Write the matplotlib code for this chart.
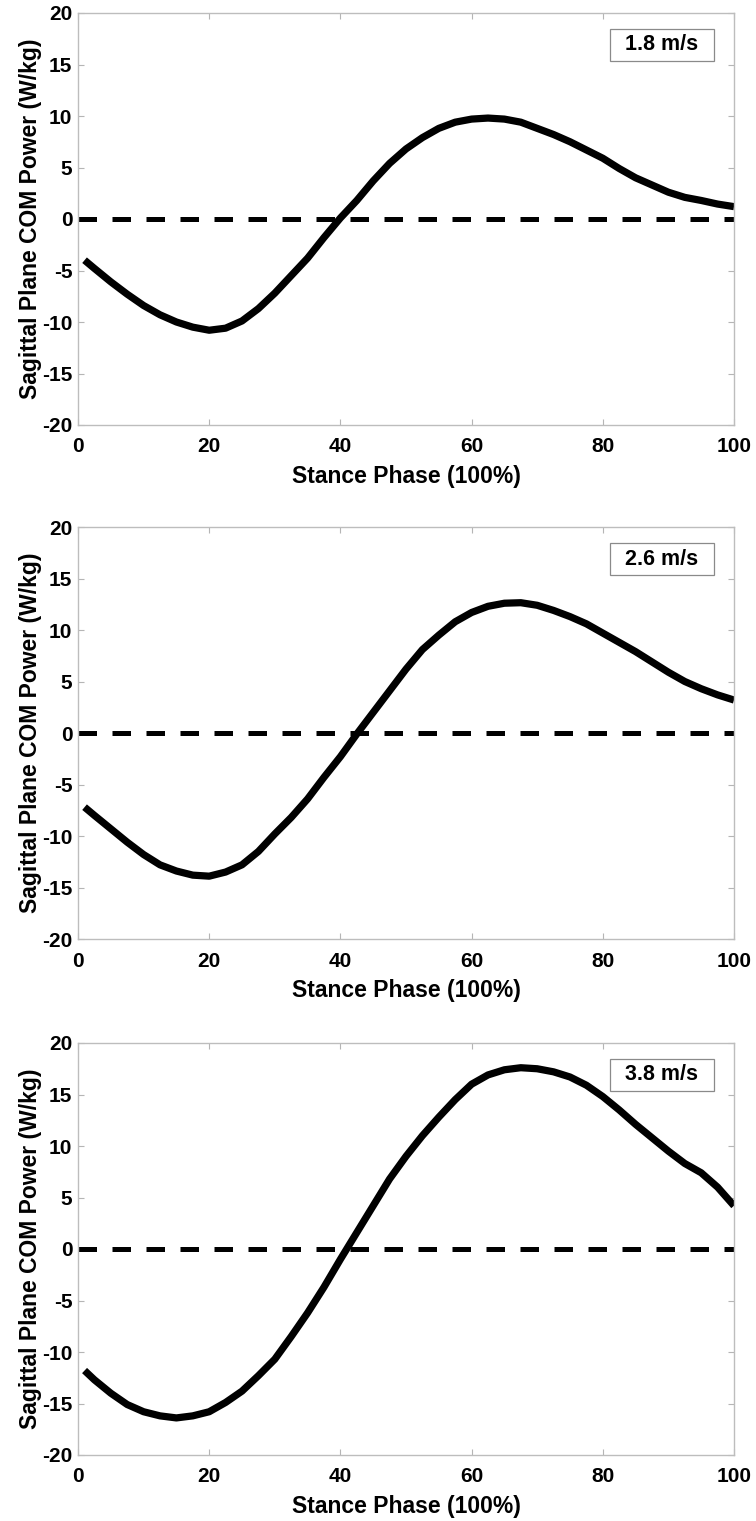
import numpy as np
import matplotlib
matplotlib.use('Agg')
import matplotlib.pyplot as plt
from matplotlib.patches import Rectangle

#---------------------------------------------------------------
# data (stance phase %, W/kg)
stance = [1, 2.5, 5, 7.5, 10, 12.5, 15, 17.5, 20, 22.5, 25, 27.5, 30, 32.5, 35, 37.5, 40,
          42.5, 45, 47.5, 50, 52.5, 55, 57.5, 60, 62.5, 65, 67.5, 70, 72.5, 75, 77.5, 80,
          82.5, 85, 87.5, 90, 92.5, 95, 97.5, 100]

power_18 = [-4.0, -4.8, -6.1, -7.3, -8.4, -9.3, -10.0, -10.5, -10.8, -10.6, -9.9, -8.7, -7.2,
            -5.5, -3.8, -1.8, 0.1, 1.8, 3.7, 5.4, 6.8, 7.9, 8.8, 9.4, 9.7, 9.8, 9.7, 9.4, 8.8,
            8.2, 7.5, 6.7, 5.9, 4.9, 4.0, 3.3, 2.6, 2.1, 1.8, 1.45, 1.2]
power_26 = [-7.2, -8.0, -9.3, -10.6, -11.8, -12.8, -13.4, -13.8, -13.9, -13.5, -12.8, -11.5,
            -9.8, -8.2, -6.4, -4.3, -2.3, -0.1, 2.0, 4.1, 6.2, 8.1, 9.5, 10.8, 11.7, 12.3, 12.6,
            12.65, 12.4, 11.9, 11.3, 10.6, 9.7, 8.8, 7.9, 6.9, 5.9, 5.0, 4.3, 3.7, 3.2]
power_38 = [-11.8, -12.7, -14.0, -15.1, -15.8, -16.2, -16.4, -16.2, -15.8, -14.9, -13.8, -12.3,
            -10.7, -8.5, -6.2, -3.7, -1.0, 1.6, 4.2, 6.8, 9.0, 11.0, 12.8, 14.5, 16.0, 16.9, 17.4,
            17.6, 17.5, 17.2, 16.7, 15.9, 14.8, 13.5, 12.1, 10.8, 9.5, 8.3, 7.4, 6.0, 4.2]

speeds = ['1.8 m/s', '2.6 m/s', '3.8 m/s']
series = [power_18, power_26, power_38]

xticks = [0, 20, 40, 60, 80, 100]
yticks = [-20, -15, -10, -5, 0, 5, 10, 15, 20]

#---------------------------------------------------------------
plt.rcParams['font.family'] = ['Liberation Sans', 'DejaVu Sans']
plt.rcParams['font.weight'] = 'bold'
plt.rcParams['axes.unicode_minus'] = False

W, H = 756, 1521
fig = plt.figure(figsize=(W / 100, H / 100), dpi=100)

tops = [13, 527, 1043]
ax_h = 412
left, right = 78, 734

for top, y, label in zip(tops, series, speeds):
    ax = fig.add_axes([left / W, 1 - (top + ax_h) / H, (right - left) / W, ax_h / H])

    ax.plot([0, 100], [0, 0], color='black', lw=3.6, linestyle=(0, (3.7, 3.1)))
    ax.plot(stance, y, color='black', lw=5.2, solid_capstyle='butt', solid_joinstyle='round')

    ax.set_xlim(0, 100)
    ax.set_ylim(-20, 20)
    ax.set_xticks(xticks)
    ax.set_yticks(yticks)
    ax.tick_params(direction='in', length=4, width=0.8, color='#b5b5b5',
                   labelsize=15, top=True, right=True)
    ax.tick_params(axis='x', pad=9)
    ax.tick_params(axis='y', pad=4)
    for lab in ax.get_xticklabels() + ax.get_yticklabels():
        lab.set_fontweight('bold')
    for sp in ax.spines.values():
        sp.set_color('#bdbdbd')
        sp.set_linewidth(1.0)

    ax.set_xlabel('Stance Phase (100%)', fontsize=16.5, fontweight='bold', labelpad=6)
    ax.set_ylabel('Sagittal Plane COM Power (W/kg)', fontsize=16.5, fontweight='bold', labelpad=0)

    # speed label box
    bx0 = (610 - left) / (right - left)
    bw = 104 / (right - left)
    by0 = 1 - (62 - 14) / ax_h
    bh = 32 / ax_h
    ax.add_patch(Rectangle((bx0, by0), bw, bh, transform=ax.transAxes,
                           facecolor='white', edgecolor='#8a8a8a', lw=0.9, zorder=5))
    ax.text(bx0 + bw / 2, by0 + bh / 2, label, transform=ax.transAxes,
            ha='center', va='center', fontsize=15.5, fontweight='bold', zorder=6)

fig.savefig('out.png', dpi=100)
